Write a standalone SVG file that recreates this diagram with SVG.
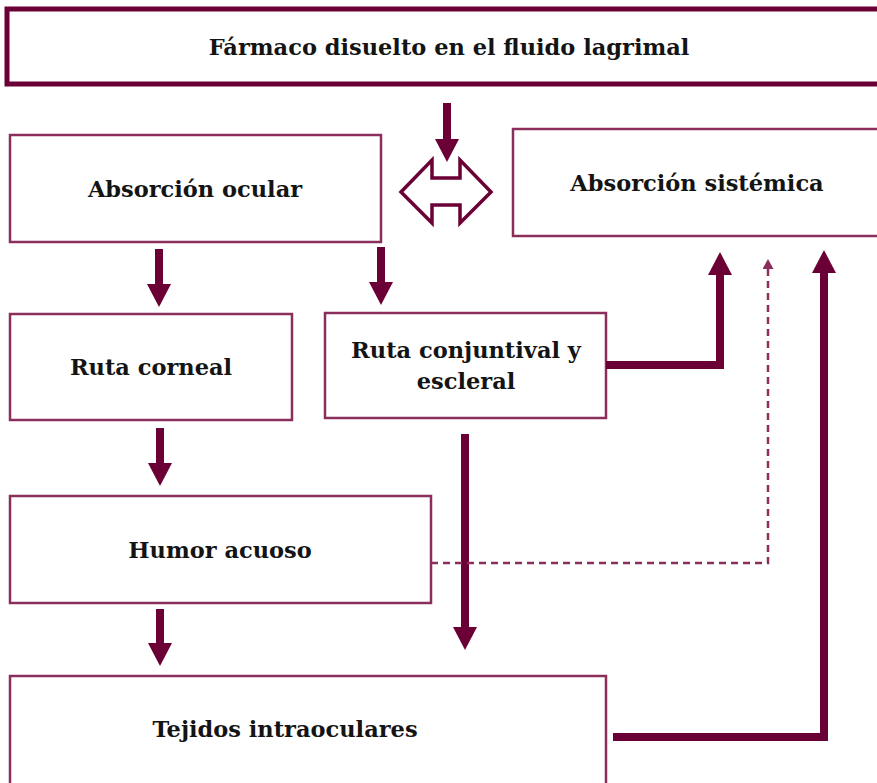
<svg xmlns="http://www.w3.org/2000/svg" width="877" height="783" viewBox="0 0 877 783">
<style>
.box{fill:#fff;stroke:#8a2f5c;stroke-width:2.5}
.top{fill:#fff;stroke:#6a0035;stroke-width:5}
.lbl{font-family:"DejaVu Serif","Liberation Serif",serif;font-weight:bold;font-size:22.5px;fill:#141414;text-anchor:middle}
.ar{fill:none;stroke:#6a0035;stroke-width:8;stroke-linecap:butt;stroke-linejoin:miter}
.dash{fill:none;stroke:#8a2f5c;stroke-width:2.5;stroke-dasharray:7 5}
</style>
<defs>
<marker id="big" markerUnits="userSpaceOnUse" markerWidth="26" markerHeight="26" viewBox="0 0 24 26" refX="0" refY="12" orient="auto">
<path d="M0,0 L23,12 L0,24 z" fill="#6a0035"/>
</marker>
<marker id="small" markerUnits="userSpaceOnUse" markerWidth="12" markerHeight="12" viewBox="0 0 11 12" refX="0" refY="5.5" orient="auto">
<path d="M0,0 L10,5.5 L0,11 z" fill="#8a2f5c"/>
</marker>
</defs>
<rect width="877" height="783" fill="#fff"/>
<g id="n-farmaco"><rect class="top" x="7" y="9" width="900" height="75"/><text class="lbl" x="449" y="55">Fármaco disuelto en el fluido lagrimal</text></g>
<g id="n-ocular"><rect class="box" x="10" y="135" width="371" height="107"/><text class="lbl" x="195" y="197">Absorción ocular</text></g>
<g id="n-sistemica"><rect class="box" x="513" y="129" width="400" height="107"/><text class="lbl" x="697" y="191">Absorción sistémica</text></g>
<g id="n-corneal"><rect class="box" x="10" y="314" width="282" height="106"/><text class="lbl" x="151" y="375">Ruta corneal</text></g>
<g id="n-conjuntival"><rect class="box" x="325" y="313" width="281" height="105"/><text class="lbl" x="466" y="358">Ruta conjuntival y</text><text class="lbl" x="466" y="389">escleral</text></g>
<g id="n-humor"><rect class="box" x="10" y="496" width="421" height="107"/><text class="lbl" x="220" y="558">Humor acuoso</text></g>
<g id="n-tejidos"><rect class="box" x="10" y="676" width="596" height="120"/><text class="lbl" x="285" y="737">Tejidos intraoculares</text></g>
<g id="connectors">
<line class="ar" x1="447" y1="103" x2="447" y2="139" marker-end="url(#big)"/>
<polygon points="401,192 432,160 432,178 460,178 460,160 491,192 460,223 460,205 432,205 432,223" fill="#fff" stroke="#6a0035" stroke-width="3.5" stroke-linejoin="miter"/>
<line class="ar" x1="159" y1="249" x2="159" y2="284" marker-end="url(#big)"/>
<line class="ar" x1="381" y1="247" x2="381" y2="282" marker-end="url(#big)"/>
<line class="ar" x1="160" y1="428" x2="160" y2="463" marker-end="url(#big)"/>
<line class="ar" x1="160" y1="609" x2="160" y2="643" marker-end="url(#big)"/>
<line class="ar" x1="465" y1="434" x2="465" y2="627" marker-end="url(#big)"/>
<path class="ar" d="M606,365 H720 V275" marker-end="url(#big)"/>
<path class="ar" d="M613,737 H824 V273" marker-end="url(#big)"/>
<path class="dash" d="M431,563 H768 V269" marker-end="url(#small)"/>
</g>
</svg>
